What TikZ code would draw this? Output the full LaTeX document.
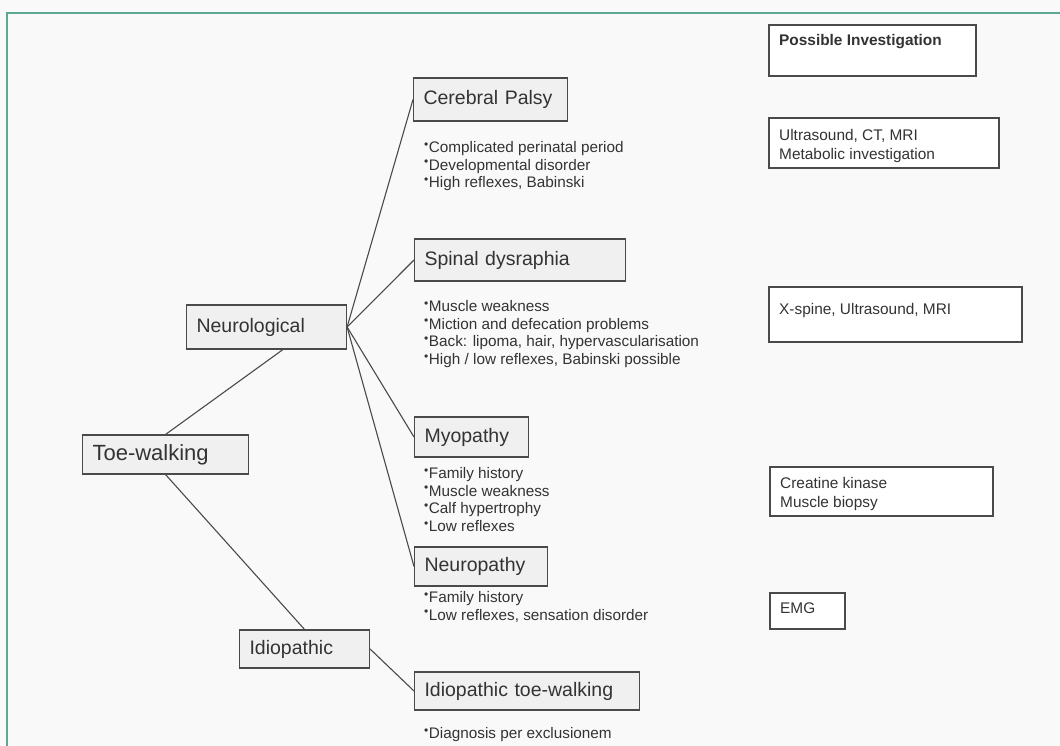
\documentclass[tikz,border=0pt]{standalone}
\usepackage{fontspec}
\setmainfont{Liberation Sans}
\definecolor{framegreen}{HTML}{5BA893}
\definecolor{linegray}{HTML}{4A4A4A}
\definecolor{txtgray}{HTML}{333333}
\definecolor{boxgray}{HTML}{F0F0F0}
\definecolor{paper}{HTML}{F9F9F9}
\newcommand{\bul}{\raisebox{4.2pt}{\fontsize{12}{12}\selectfont\textbullet}\hspace{0.5pt}}
\tikzset{
  diag/.style={draw=linegray, line width=1.1pt, fill=boxgray, text=txtgray,
    inner xsep=10pt, inner ysep=1pt, align=left, anchor=west,
    font=\fontsize{19.5}{23}\selectfont},
  blist/.style={anchor=north west, inner sep=0pt, align=left, text=txtgray,
    font=\fontsize{15.3}{17.8}\selectfont},
  invtext/.style={anchor=north west, inner sep=0pt, align=left, text=txtgray,
    font=\fontsize{15.4}{19}\selectfont},
  link/.style={draw=linegray, line width=1.1pt}
}
\begin{document}
\begin{tikzpicture}[x=1pt, y=-1pt]
\def\InvBox#1#2#3#4#5#6#7{
\draw[draw=linegray, line width=1.1pt, fill=white] (#1,#2) rectangle (#3,#4);
\node[invtext] (#6) at (#1+10,#5) {#7};
}

\fill[paper] (0,0) rectangle (1060,746);
\useasboundingbox (0,0) rectangle (1060,746);
\draw[framegreen, line width=1.4pt] (7,746) -- (7,13) -- (1060,13);

% diagnosis tree
\node[diag, font=\fontsize{22}{26}\selectfont, text width=146pt, minimum height=39pt] (toe) at (82,454.5) {Toe-walking};
\node[diag, text width=140pt, minimum height=44pt] (neuro) at (186,327) {Neurological};
\node[diag, text width=110pt, minimum height=38pt] (idio) at (239,649) {Idiopathic};

\node[diag, text width=134pt, minimum height=43pt] (cp) at (413,99.5) {Cerebral Palsy};
\node[diag, text width=191pt, minimum height=42pt] (sd) at (414,260) {Spinal dysraphia};
\node[diag, text width=94pt, minimum height=40pt] (myo) at (414,437) {Myopathy};
\node[diag, text width=113pt, minimum height=39pt] (neurop) at (414,566.5) {Neuropathy};
\node[diag, text width=205pt, minimum height=38pt] (itw) at (414,691) {Idiopathic toe-walking};

% signs
\node[blist] (cpsigns) at (424,141) {\bul Complicated perinatal period\\ \bul Developmental disorder\\ \bul High reflexes, Babinski};
\node[blist] (sdsigns) at (424,300) {\bul Muscle weakness\\ \bul Miction and defecation problems\\ \bul Back: lipoma, hair, hypervascularisation\\ \bul High / low reflexes, Babinski possible};
\node[blist] (myosigns) at (424,467) {\bul Family history\\ \bul Muscle weakness\\ \bul Calf hypertrophy\\ \bul Low reflexes};
\node[blist] (neuropsigns) at (424,591) {\bul Family history\\ \bul Low reflexes, sensation disorder};
\node[blist] (itwsigns) at (424,727) {\bul Diagnosis per exclusionem};

\draw[link] (toe.north) -- (neuro.-54);
\draw[link] (toe.south) -- (idio.north);
\draw[link] (neuro.east) -- (cp.west);
\draw[link] (neuro.east) -- (sd.west);
\draw[link] (neuro.east) -- (myo.west);
\draw[link] (neuro.east) -- (neurop.west);
\draw[link] (idio.east) -- (itw.west);

% investigations
\InvBox{769}{25}{976}{76}{34}{pi}{\textbf{Possible Investigation}}
\InvBox{769}{118}{999}{168}{129}{inva}{Ultrasound, CT, MRI\\ Metabolic investigation}
\InvBox{769}{287}{1022}{342}{303}{invb}{X-spine, Ultrasound, MRI}
\InvBox{770}{467}{993}{516}{477}{invc}{Creatine kinase\\ Muscle biopsy}
\InvBox{770}{593}{845}{629}{603}{invd}{EMG}
\end{tikzpicture}
\end{document}
